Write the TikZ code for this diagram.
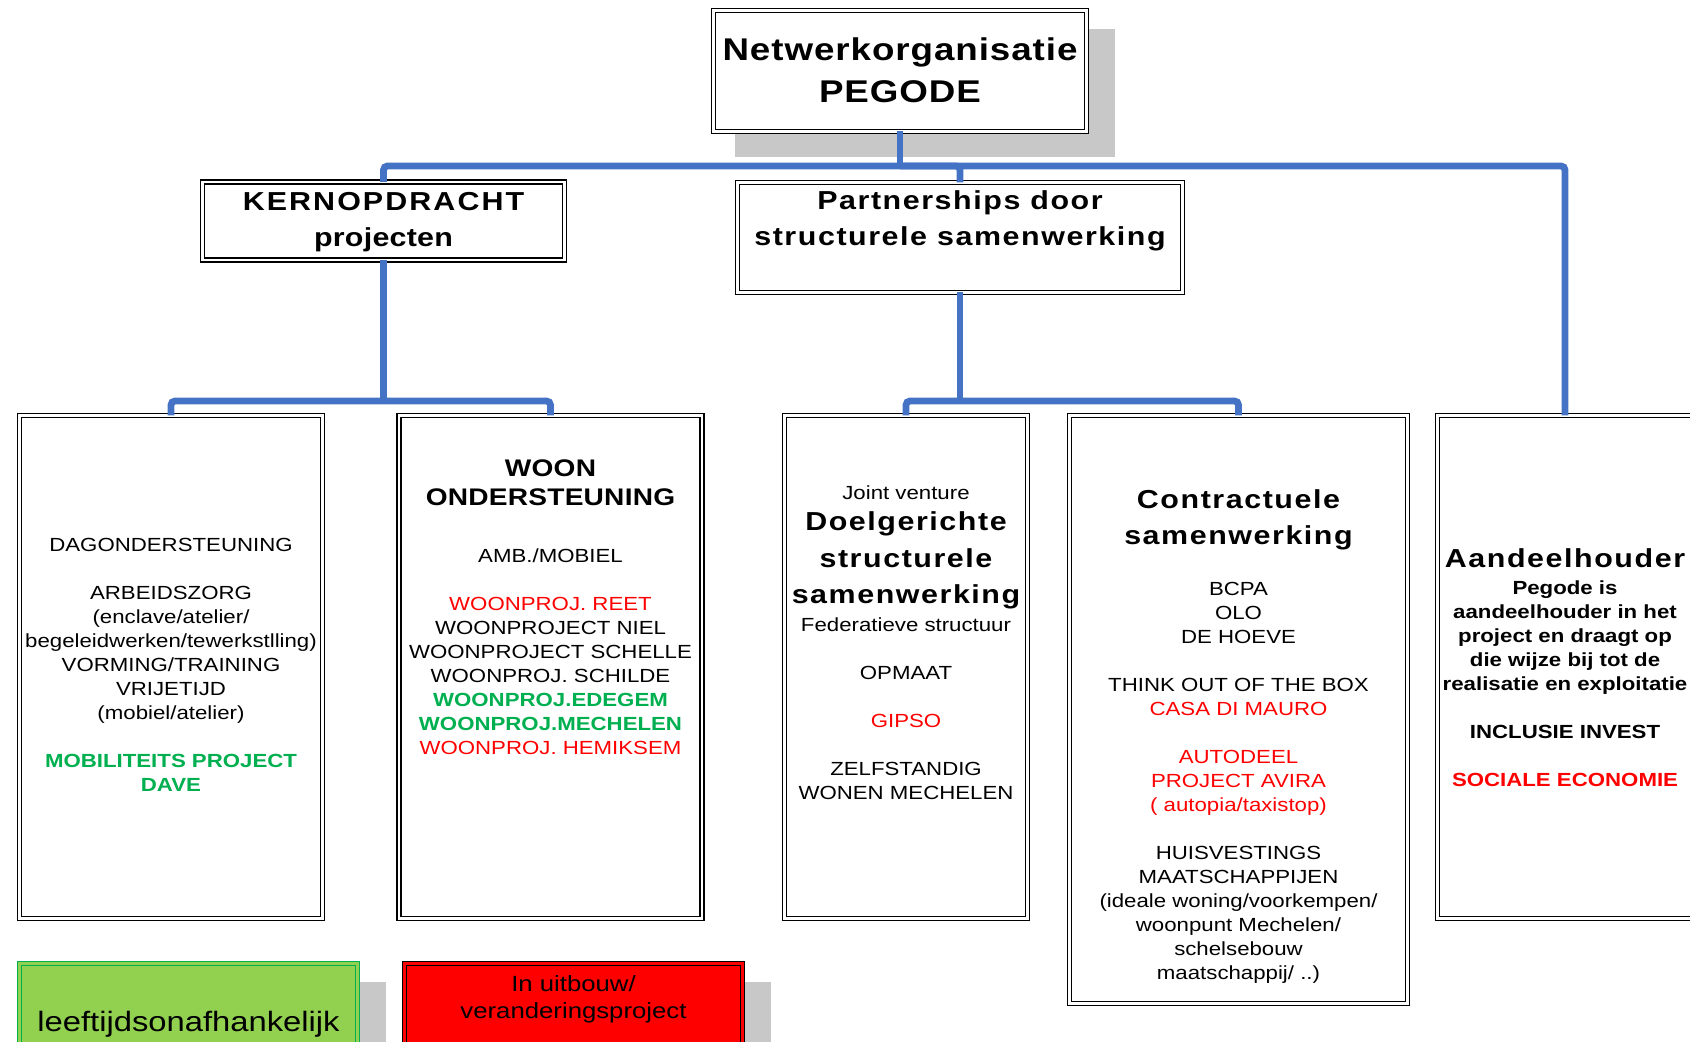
\documentclass[tikz,border=0pt]{standalone}
\usepackage{fontspec}
\setmainfont{Liberation Sans}[FakeStretch=1.17]
\definecolor{conblue}{RGB}{68,114,196}
\definecolor{pred}{RGB}{255,0,0}
\definecolor{pgreen}{RGB}{0,176,80}
\definecolor{leggreen}{RGB}{146,208,80}
\definecolor{shadowgray}{RGB}{200,200,200}
\newcommand{\redtxt}[1]{\textcolor{pred}{#1}}
\newcommand{\grnbold}[1]{\textcolor{pgreen}{\bfseries #1}}
\pgfdeclarelayer{bgfill}
\pgfdeclarelayer{shadows}
\pgfsetlayers{bgfill,shadows,main}
\begin{document}
\begin{tikzpicture}[x=0.5pt,y=-0.5pt,
  box/.style={draw=black, double=white, double distance=1.4pt, line width=0.7pt, fill=white, inner sep=0pt, outer sep=0pt},
  conn/.style={draw=conblue, line width=3.4pt, rounded corners=2pt},
  body/.style={inner sep=0pt, align=center, anchor=north, font=\fontsize{9.5}{12}\selectfont},
  headtxt/.style={inner sep=0pt, align=center, anchor=north},
  shade/.style={fill=shadowgray}
]
\useasboundingbox (0,0) rectangle (1690,1042);
\clip (0,0) rectangle (1690,1042);
\begin{pgfonlayer}{bgfill}
\fill[white] (0,0) rectangle (1690,1042);
\end{pgfonlayer}

% boxes
\node[box, minimum width=186.5pt, minimum height=60.5pt] (top) at (900,71) {};
\node[box, minimum width=181pt, minimum height=39pt] (kern) at (383.5,221) {};
\node[box, minimum width=222.5pt, minimum height=55pt] (part) at (960,237.5) {};
\node[box, minimum width=151.5pt, minimum height=251.5pt] (b1) at (171,667) {};
\node[box, minimum width=151.5pt, minimum height=251.5pt] (b2) at (550.5,667) {};
\node[box, minimum width=121.5pt, minimum height=251.5pt] (b3) at (906,667) {};
\node[box, minimum width=169pt, minimum height=294pt] (b4) at (1238.5,709.5) {};
\node[box, minimum width=127.5pt, minimum height=251.5pt] (b5) at (1565,667) {};
\node[box, draw=pgreen, double=leggreen, fill=leggreen, minimum width=169pt, minimum height=58.25pt] (leg1) at (188.5,1021.75) {};
\node[box, double=pred, fill=pred, minimum width=169pt, minimum height=58.25pt] (leg2) at (573.5,1021.75) {};

% shadows
\begin{pgfonlayer}{shadows}
\foreach \n in {top,leg1,leg2}
  \fill[shade] ([shift={(21.5,18.5)}]\n.north west) rectangle ([shift={(28.5,25.5)}]\n.south east);
\end{pgfonlayer}

% connectors
\coordinate (j1) at (900,166);
\draw[conn] (top.south) -- (j1);
\draw[conn] (kern.north) |- (j1) -| (b5.north);
\draw[conn] (j1) -| (part.north);
\coordinate (j2) at (383.5,401);
\draw[conn] (kern.south) -- (j2);
\draw[conn] (b1.north) |- (j2) -| (b2.north);
\coordinate (j3) at (960,401);
\draw[conn] (part.south) -- (j3);
\draw[conn] (b3.north) |- (j3) -| (b4.north);

% texts
\node[headtxt, font=\fontsize{15.7}{21}\selectfont\bfseries\addfontfeature{LetterSpace=3}] (toptxt) at (900,37) {Netwerkorganisatie\\PEGODE};

\node[headtxt, font=\fontsize{13}{17.8}\selectfont\bfseries] (kerntxt) at (383.5,192)
  {{\addfontfeature{LetterSpace=8}KERNOPDRACHT}\\{\addfontfeature{LetterSpace=1}projecten}};

\node[headtxt, font=\fontsize{13}{18}\selectfont\bfseries\addfontfeature{LetterSpace=6}] (parttxt) at (960,190.5)
  {Partnerships door\\structurele samenwerking};

\node[body] (b1txt) at (171,538) {DAGONDERSTEUNING\\[12pt]
ARBEIDSZORG\\
(enclave/atelier/\\
begeleidwerken/tewerkstlling)\\
VORMING/TRAINING\\
VRIJETIJD\\
(mobiel/atelier)\\[12pt]
\grnbold{MOBILITEITS PROJECT}\\
\grnbold{DAVE}};

\node[headtxt, font=\fontsize{12}{14.5}\selectfont\bfseries\addfontfeature{LetterSpace=1}] (b2head) at (550.5,459)
  {WOON\\ONDERSTEUNING};
\node[body] (b2txt) at (550.5,548) {AMB./MOBIEL\\[12pt]
\redtxt{WOONPROJ. REET}\\
WOONPROJECT NIEL\\
WOONPROJECT SCHELLE\\
WOONPROJ. SCHILDE\\
\grnbold{WOONPROJ.EDEGEM}\\
\grnbold{WOONPROJ.MECHELEN}\\
\redtxt{WOONPROJ. HEMIKSEM}};

\node[body] (b3jv) at (906,485.7) {Joint venture};
\node[headtxt, font=\fontsize{13}{18.3}\selectfont\bfseries\addfontfeature{LetterSpace=6}] (b3head) at (906,511.5)
  {Doelgerichte\\structurele\\samenwerking};
\node[body] (b3txt) at (906,617) {Federatieve structuur\\[12pt]
OPMAAT\\[12pt]
\redtxt{GIPSO}\\[12pt]
ZELFSTANDIG\\
WONEN MECHELEN};

\node[headtxt, font=\fontsize{13}{17.8}\selectfont\bfseries\addfontfeature{LetterSpace=6}] (b4head) at (1238.5,489.5)
  {Contractuele\\samenwerking};
\node[body] (b4txt) at (1238.5,581.5) {BCPA\\
OLO\\
DE HOEVE\\[12pt]
THINK OUT OF THE BOX\\
\redtxt{CASA DI MAURO}\\[12pt]
\redtxt{AUTODEEL}\\
\redtxt{PROJECT AVIRA}\\
\redtxt{( autopia/taxistop)}\\[12pt]
HUISVESTINGS\\
MAATSCHAPPIJEN\\
(ideale woning/voorkempen/\\
woonpunt Mechelen/\\
schelsebouw\\
maatschappij/ ..)};

\node[headtxt, font=\fontsize{13}{14}\selectfont\bfseries\addfontfeature{LetterSpace=6}] (b5head) at (1565,548.5) {Aandeelhouder};
\node[body, font=\fontsize{9.5}{12}\selectfont\bfseries] (b5txt) at (1565,580) {Pegode is\\
aandeelhouder in het\\
project en draagt op\\
die wijze bij tot de\\
realisatie en exploitatie\\[12pt]
INCLUSIE INVEST\\[12pt]
\redtxt{SOCIALE ECONOMIE}};

\node[headtxt, font=\fontsize{14}{16}\selectfont] (leg1txt) at (188.5,1010.5) {leeftijdsonafhankelijk};
\node[headtxt, font=\fontsize{11}{13.5}\selectfont] (leg2txt) at (573.5,975) {In uitbouw/\\veranderingsproject};
\end{tikzpicture}
\end{document}
